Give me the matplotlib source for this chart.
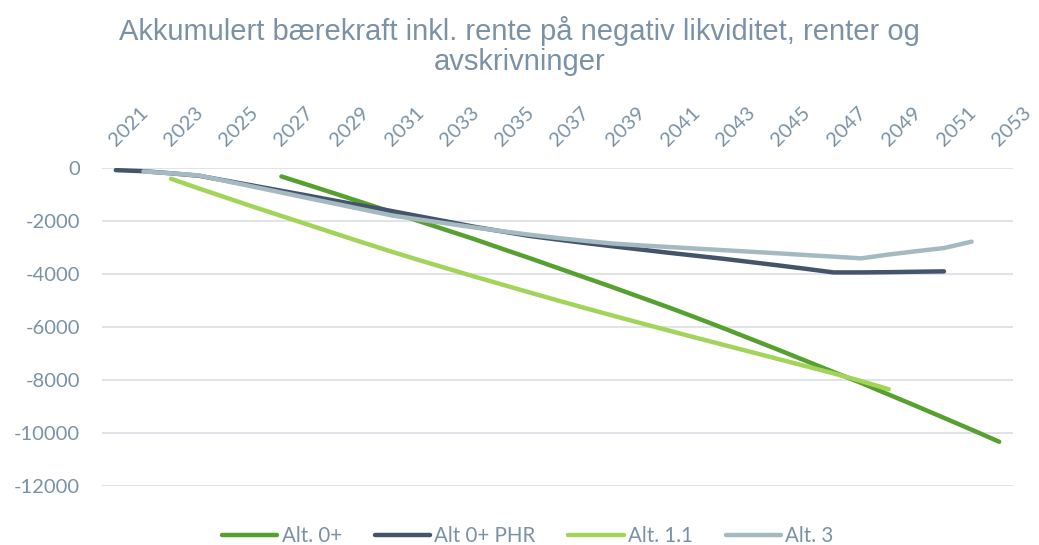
import numpy as np
import matplotlib.pyplot as plt

plt.rcParams["axes.unicode_minus"] = False

# years on the category axis
years = list(range(2021, 2054))

# accumulated values per alternative (None = no value that year)
alt_0 = [None] * 6 + [-320, -650, -985, -1325, -1665, -2010, -2350, -2690, -3050,
                      -3405, -3770, -4135, -4500, -4875, -5250, -5640, -6040, -6450,
                      -6860, -7280, -7700, -8110, -8550, -8985, -9430, -9875, -10330]
alt_0_phr = [-80, -120, -200, -290, -480, -670, -860, -1050, -1245, -1435, -1625,
             -1825, -2020, -2220, -2395, -2565, -2700, -2830, -2955, -3075, -3195,
             -3310, -3425, -3550, -3675, -3805, -3940, -3940, -3930, -3915, -3900] + [None] * 2
alt_1_1 = [None] * 2 + [-405, -770, -1120, -1470, -1810, -2150, -2490, -2830, -3160,
                        -3480, -3790, -4100, -4400, -4700, -4995, -5285, -5570, -5850,
                        -6125, -6400, -6670, -6940, -7210, -7480, -7750, -8040, -8350] + [None] * 4
alt_3 = [None] + [-130, -200, -280, -495, -710, -925, -1145, -1360, -1575, -1790,
                  -1945, -2095, -2245, -2385, -2520, -2640, -2750, -2850, -2920, -2980,
                  -3040, -3100, -3160, -3220, -3285, -3345, -3410, -3265, -3140, -3020,
                  -2780] + [None]

series = [
    ("Alt. 0+", alt_0, "#55a02e"),
    ("Alt 0+ PHR", alt_0_phr, "#44546a"),
    ("Alt. 1.1", alt_1_1, "#a2d45a"),
    ("Alt. 3", alt_3, "#a5b9c1"),
]

title_lines = ["Akkumulert bærekraft inkl. rente på negativ likviditet, renter og",
               "avskrivninger"]

txt_color = "#7a91a6"
grid_color = "#dde1e6"

fig = plt.figure(figsize=(10.39, 5.45), dpi=100)
ax = fig.add_axes([102 / 1039, 1 - 486 / 545, 911 / 1039, 318 / 545])

x = np.arange(len(years))
for name, vals, col in series:
    y = np.array([np.nan if v is None else v for v in vals], dtype=float)
    ax.plot(x, y, color=col, lw=3.2, solid_capstyle="round", solid_joinstyle="round", label=name)

ax.set_xlim(-0.5, len(years) - 0.5)
ax.set_ylim(-12000, 0)
ax.set_yticks(np.arange(-12000, 1, 2000))
ax.yaxis.grid(True, color=grid_color, lw=1.3)
ax.set_axisbelow(True)
for s in ax.spines.values():
    s.set_visible(False)

ax.xaxis.tick_top()
ax.set_xticks(x[::2])
ax.set_xticklabels([str(yr) for yr in years[::2]], rotation=45, ha="left", va="baseline",
                   rotation_mode="anchor", fontsize=14.5, color=txt_color, fontfamily="Lato")
ax.tick_params(axis="x", length=0, pad=15)
ax.tick_params(axis="y", length=0, pad=16, labelsize=14.5, labelcolor=txt_color)
for lbl in ax.get_yticklabels():
    lbl.set_fontfamily("Lato")

# two-line title
fig.text(0.5, 1 - 40 / 545, title_lines[0], ha="center", va="baseline", fontsize=21,
         color=txt_color, family="Liberation Sans")
fig.text(0.5, 1 - 70 / 545, title_lines[1], ha="center", va="baseline", fontsize=21,
         color=txt_color, family="Liberation Sans")

leg = fig.legend(loc="center", bbox_to_anchor=(0.508, 1 - 536 / 545), ncol=4, frameon=False,
                 handlelength=2.7, handletextpad=0.2, columnspacing=1.6,
                 prop={"family": "Lato", "size": 14.8})
for t in leg.get_texts():
    t.set_color(txt_color)

fig.savefig("out.png", dpi=100)
